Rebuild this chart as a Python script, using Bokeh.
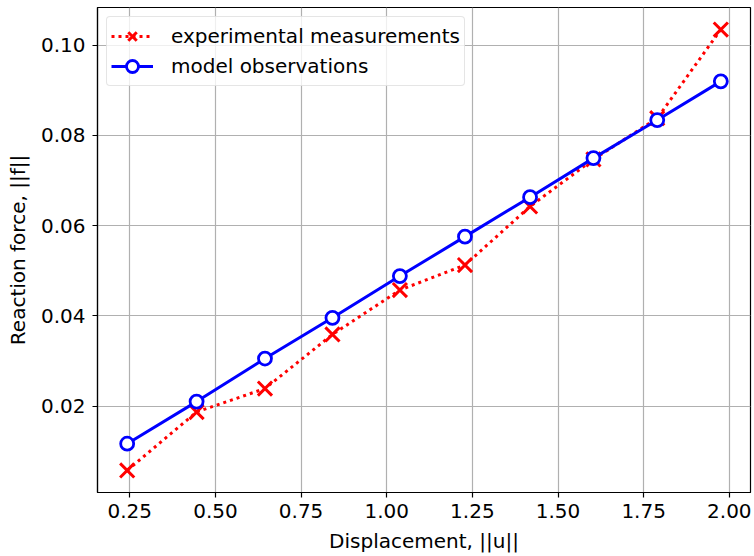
from bokeh.plotting import figure
from bokeh.models import (Range1d, FixedTicker, PrintfTickFormatter, Legend, LegendItem)
from bokeh.embed import file_html
from bokeh.resources import INLINE

# ---- data ----
displacement = [0.2424, 0.4450, 0.6446, 0.8416, 1.0384, 1.2284, 1.4184, 1.6034, 1.7896, 1.9752]
experimental = [0.00571, 0.01867, 0.02387, 0.03587, 0.04571, 0.05127, 0.06427, 0.07470, 0.08382, 0.10349]
model = [0.01164, 0.02098, 0.03053, 0.03956, 0.04882, 0.05756, 0.06631, 0.07498, 0.08342, 0.09200]
x_ticks = [0.25, 0.50, 0.75, 1.00, 1.25, 1.50, 1.75, 2.00]
y_ticks = [0.02, 0.04, 0.06, 0.08, 0.10]
labels = ["experimental measurements", "model observations"]

FONT = "DejaVu Sans"

def padded(vals, frac=0.05):
    lo, hi = min(vals), max(vals)
    pad = (hi - lo) * frac
    return lo - pad, hi + pad

x0, x1 = padded(displacement)
y0, y1 = padded(experimental + model)

p = figure(width=754, height=556, output_backend="svg", toolbar_location=None,
           x_range=Range1d(x0, x1), y_range=Range1d(y0, y1),
           min_border_left=97, min_border_right=4, min_border_top=7, min_border_bottom=64)
p.background_fill_color = "white"
p.border_fill_color = "white"
p.outline_line_color = "black"
p.outline_line_width = 1.2

for ax in (p.xaxis[0], p.yaxis[0]):
    ax.major_label_text_font = FONT
    ax.major_label_text_font_size = "20px"
    ax.major_label_text_color = "black"
    ax.axis_label_text_font = FONT
    ax.axis_label_text_font_size = "20px"
    ax.axis_label_text_font_style = "normal"
    ax.axis_label_text_color = "black"
    ax.axis_line_color = "black"
    ax.axis_line_width = 1.2
    ax.major_tick_line_color = "black"
    ax.major_tick_line_width = 1.2
    ax.major_tick_out = 5
    ax.major_tick_in = 0
    ax.minor_tick_line_color = None
    ax.axis_label_standoff = 8
p.xaxis[0].major_label_standoff = 6
p.yaxis[0].major_label_standoff = 7

p.xaxis.ticker = FixedTicker(ticks=x_ticks)
p.yaxis.ticker = FixedTicker(ticks=y_ticks)
p.xaxis.formatter = PrintfTickFormatter(format="%.2f")
p.yaxis.formatter = PrintfTickFormatter(format="%.2f")
p.xaxis.axis_label = "Displacement, ||u||"
p.yaxis.axis_label = "Reaction force, ||f||"

p.xgrid.ticker = FixedTicker(ticks=x_ticks)
p.ygrid.ticker = FixedTicker(ticks=y_ticks)
for g in (p.xgrid[0], p.ygrid[0]):
    g.grid_line_color = "#b0b0b0"
    g.grid_line_width = 1.2

r_el = p.line(displacement, experimental, line_color="#ff0000", line_width=3, line_dash="3 4")
r_es = p.scatter(displacement, experimental, marker="x", size=20, line_color="#ff0000", line_width=3)
r_ml = p.line(displacement, model, line_color="#0000ff", line_width=3)
r_ms = p.scatter(displacement, model, marker="circle", size=13, line_color="#0000ff",
                 fill_color="white", line_width=2.8)

legend = Legend(items=[LegendItem(label=labels[0], renderers=[r_el, r_es]),
                       LegendItem(label=labels[1], renderers=[r_ml, r_ms])],
                location="top_left", margin=9, padding=4, spacing=0,
                glyph_width=42, glyph_height=30, label_height=30, label_standoff=18)
legend.label_text_font = FONT
legend.label_text_font_size = "20px"
legend.label_text_color = "black"
legend.border_line_color = "#cccccc"
legend.border_line_width = 1
legend.background_fill_color = "white"
legend.background_fill_alpha = 0.8
if "border_radius" in Legend.properties():
    legend.border_radius = 4
p.add_layout(legend)

open("out.html", "w").write(file_html(p, INLINE))
